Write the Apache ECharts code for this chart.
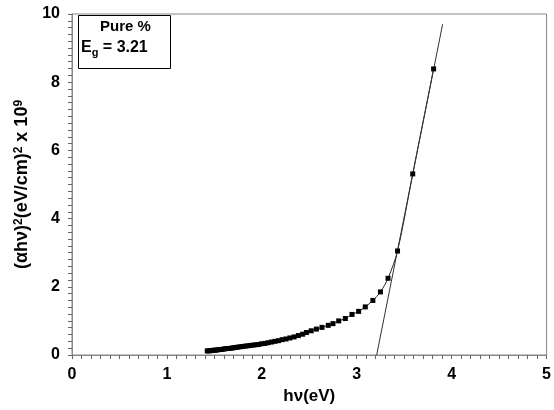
<!DOCTYPE html>
<html><head><meta charset="utf-8">
<script src="https://cdn.jsdelivr.net/npm/echarts@6/dist/echarts.min.js"></script>
<style>html,body{margin:0;padding:0;background:#fff}#c{width:554px;height:410px}</style>
</head><body><div id="c"></div>
<script>
const energy = [1.425,1.442,1.459,1.476,1.494,1.512,1.531,1.550,1.570,1.590,1.610,1.632,1.653,1.676,1.699,1.722,1.746,1.771,1.797,1.824,1.851,1.879,1.908,1.938,1.968,2.000,2.033,2.067,2.102,2.138,2.175,2.214,2.255,2.296,2.340,2.385,2.43,2.47,2.52,2.575,2.634,2.70,2.75,2.81,2.88,2.95,3.02,3.09,3.17,3.25,3.33,3.43,3.59,3.81];
const absorb = [0.12,0.12,0.13,0.13,0.14,0.14,0.15,0.16,0.16,0.17,0.18,0.19,0.19,0.20,0.21,0.22,0.23,0.24,0.25,0.26,0.27,0.28,0.29,0.30,0.31,0.33,0.34,0.36,0.38,0.40,0.42,0.45,0.47,0.50,0.53,0.57,0.61,0.66,0.71,0.76,0.81,0.87,0.92,1.00,1.07,1.19,1.28,1.41,1.60,1.85,2.25,3.05,5.31,8.39];
const fitX = [3.21, 3.905];
const fitY = [0, 9.7];
const xTicks = [0,1,2,3,4,5];
const yTicks = [0,2,4,6,8,10];
const bandGap = '3.21';

const chart = echarts.init(document.getElementById('c'));
const font = '"Liberation Sans Narrow", "Arial Narrow", "Liberation Sans", sans-serif';
const font2 = '"Liberation Sans", Arial, sans-serif';
chart.setOption({
  animation: false,
  backgroundColor: '#fff',
  grid: {left: 72, right: 2, top: 14, bottom: 53, show: true, borderColor: '#888', borderWidth: 1},
  xAxis: {
    type: 'value', min: xTicks[0], max: xTicks[xTicks.length-1], interval: 1,
    name: 'hν(eV)', nameLocation: 'middle', nameGap: 33,
    nameTextStyle: {fontFamily: font2, fontWeight: 'bold', fontSize: 17, color: '#000'},
    axisLine: {lineStyle: {color: '#888'}},
    axisTick: {length: 4, lineStyle: {color: '#666'}},
    minorTick: {show: true, splitNumber: 10, length: 4, lineStyle: {color: '#666'}},
    axisLabel: {fontFamily: font, fontWeight: 'bold', fontSize: 16, color: '#000', margin: 12},
    splitLine: {show: false}
  },
  yAxis: {
    type: 'value', min: yTicks[0], max: yTicks[yTicks.length-1], interval: 2,
    name: '{n|(αhν)}{s|2}{n|(eV/cm)}{s|2}{n| x 10}{s|9}', nameLocation: 'middle', nameGap: 39,
    nameTextStyle: {color: '#000', rich: {
      n: {fontFamily: font2, fontWeight: 'bold', fontSize: 18, color: '#000'},
      s: {fontFamily: font2, fontWeight: 'bold', fontSize: 12, color: '#000', verticalAlign: 'top', padding: [0,0,8,0]}}},
    axisLine: {lineStyle: {color: '#888'}},
    axisTick: {length: 4, lineStyle: {color: '#666'}},
    minorTick: {show: true, splitNumber: 10, length: 4, lineStyle: {color: '#666'}},
    axisLabel: {fontFamily: font, fontWeight: 'bold', fontSize: 16, color: '#000', margin: 12},
    splitLine: {show: false}
  },
  series: [
    {type: 'line', data: energy.map((x,i)=>[x, absorb[i]]), smooth: 0.3,
     symbol: 'rect', symbolSize: 5, itemStyle: {color: '#000'},
     lineStyle: {color: '#222', width: 1}},
    {type: 'line', data: fitX.map((x,i)=>[x, fitY[i]]), symbol: 'none',
     lineStyle: {color: '#333', width: 1}}
  ],
  graphic: [
    {type: 'rect', left: 78, top: 15, shape: {width: 92, height: 53},
     style: {fill: '#fff', stroke: '#000', lineWidth: 1}},
    {type: 'text', left: 100, top: 19,
     style: {text: 'Pure %', fontFamily: font2, fontWeight: 'bold', fontSize: 15, fill: '#000'}},
    {type: 'text', left: 81, top: 40,
     style: {text: '{a|E}{b|g}{a| = ' + bandGap + '}',
       rich: {a: {fontFamily: font2, fontWeight: 'bold', fontSize: 16, fill: '#000'},
              b: {fontFamily: font2, fontWeight: 'bold', fontSize: 11, fill: '#000', padding: [9,0,0,0]}}}}
  ]
});
</script></body></html>
